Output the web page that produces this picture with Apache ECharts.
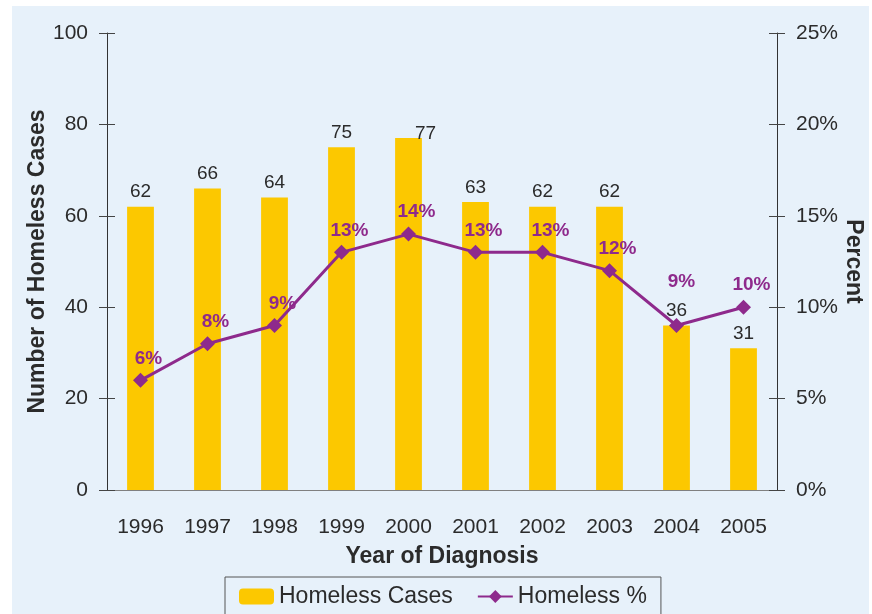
<!DOCTYPE html>
<html>
<head>
<meta charset="utf-8">
<script src="https://cdn.jsdelivr.net/npm/echarts@6/dist/echarts.min.js"></script>
<style>
    html, body { margin: 0; padding: 0; background: #fff; }
    #chart { width: 872px; height: 614px; }
</style>
</head>
<body>
<div id="chart"></div>
<script>
// data
const years = ["1996", "1997", "1998", "1999", "2000", "2001", "2002", "2003", "2004", "2005"];
const homelessCases = [62, 66, 64, 75, 77, 63, 62, 62, 36, 31];
const homelessPct = [6, 8, 9, 13, 14, 13, 13, 12, 9, 10];

const font = "Liberation Sans, Arial, sans-serif";
const textColor = "#2b2b2b";
const purple = "#8e2a8c";

const chart = echarts.init(document.getElementById("chart"));

// a few labels are nudged in the original to avoid collisions
const barData = homelessCases.map((v, i) => {
    if (i === 4) return { value: v, label: { offset: [17, 10] } };
    return v;
});
const lineData = homelessPct.map((v, i) => {
    if (i === 8) return { value: v, label: { offset: [5, -22] } };
    return v;
});

const tickStyle = { lineStyle: { color: "#444", width: 1 } };
const nameStyle = { fontFamily: font, fontSize: 23, fontWeight: "bold", color: textColor };

const option = {
    animation: false,
    backgroundColor: "#fff",
    graphic: [{
        type: "rect",
        z: -10,
        shape: { x: 12, y: 6, width: 857, height: 608 },
        style: { fill: "#e7f1fa" }
    }],
    grid: { left: 107, right: 95, top: 33, bottom: 124, containLabel: false, outerBoundsMode: "none" },
    legend: {
        left: 225,
        top: 577,
        padding: [8, 14, 8, 14],
        borderColor: "#555",
        borderWidth: 1,
        itemWidth: 35,
        itemHeight: 16,
        itemGap: 24,
        textStyle: { fontFamily: font, fontSize: 23, color: textColor },
        data: ["Homeless Cases", "Homeless %"]
    },
    xAxis: [
        {
            type: "category",
            data: years,
            name: "Year of Diagnosis",
            nameLocation: "middle",
            nameGap: 55,
            nameMoveOverlap: false,
            nameTextStyle: nameStyle,
            axisLine: { lineStyle: { color: "#808080", width: 1 } },
            axisTick: Object.assign({ length: 8, inside: false }, tickStyle),
            axisLabel: { fontFamily: font, fontSize: 21, color: textColor, margin: 27 }
        },
        {
            type: "category",
            data: years,
            position: "bottom",
            axisLine: { show: false },
            axisTick: Object.assign({ length: 8, inside: true }, tickStyle),
            axisLabel: { show: false }
        }
    ],
    yAxis: [
        {
            type: "value",
            min: 0, max: 100, interval: 20,
            position: "left",
            name: "Number of Homeless Cases",
            nameLocation: "middle",
            nameGap: 58,
            nameMoveOverlap: false,
            nameTextStyle: nameStyle,
            axisLine: { show: true, lineStyle: { color: "#333", width: 1 } },
            axisTick: Object.assign({ show: true, length: 8 }, tickStyle),
            axisLabel: { fontFamily: font, fontSize: 21, color: textColor, margin: 19 },
            splitLine: { show: false }
        },
        {
            type: "value",
            min: 0, max: 25, interval: 5,
            position: "right",
            name: "Percent",
            nameLocation: "middle",
            nameRotate: -90,
            nameGap: 65,
            nameMoveOverlap: false,
            nameTextStyle: nameStyle,
            axisLine: { show: true, lineStyle: { color: "#333", width: 1 } },
            axisTick: Object.assign({ show: true, length: 8 }, tickStyle),
            axisLabel: { fontFamily: font, fontSize: 21, color: textColor, margin: 19, formatter: "{value}%" },
            splitLine: { show: false }
        },
        {
            type: "value",
            min: 0, max: 100, interval: 20,
            position: "left",
            axisLine: { show: false },
            axisTick: Object.assign({ show: true, inside: true, length: 8 }, tickStyle),
            axisLabel: { show: false },
            splitLine: { show: false }
        },
        {
            type: "value",
            min: 0, max: 25, interval: 5,
            position: "right",
            axisLine: { show: false },
            axisTick: Object.assign({ show: true, inside: true, length: 8 }, tickStyle),
            axisLabel: { show: false },
            splitLine: { show: false }
        }
    ],
    series: [
        {
            name: "Homeless Cases",
            type: "bar",
            yAxisIndex: 0,
            data: barData,
            barCategoryGap: "60%",
            itemStyle: { color: "#fcc800" },
            label: {
                show: true,
                position: "top",
                fontFamily: font,
                fontSize: 19,
                color: textColor
            }
        },
        {
            name: "Homeless %",
            type: "line",
            yAxisIndex: 1,
            data: lineData,
            symbol: "diamond",
            symbolSize: 15,
            lineStyle: { color: purple, width: 3 },
            itemStyle: { color: purple },
            label: {
                show: true,
                position: "top",
                offset: [8, 0],
                fontFamily: font,
                fontSize: 19,
                fontWeight: "bold",
                color: purple,
                formatter: "{c}%"
            }
        }
    ]
};

chart.setOption(option);
</script>
</body>
</html>
